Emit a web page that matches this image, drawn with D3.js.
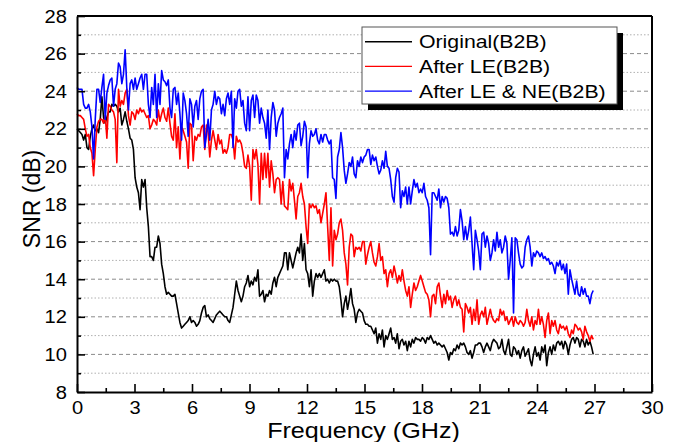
<!DOCTYPE html>
<html><head><meta charset="utf-8">
<script src="https://cdn.jsdelivr.net/npm/d3@7"></script>
<style>body{margin:0;background:#fff;} svg{display:block;}</style>
</head><body><svg id="c" width="678" height="442"></svg>
<script>
// ---------- data ----------
const freqStart = 0;       // GHz of first sample
const freqStep = 0.0866;   // GHz between samples
const seriesNames = ["Original(B2B)", "After LE(B2B)", "After LE & NE(B2B)"];

const snrOriginal = [
22.0,21.9,21.8,21.7,21.4,21.7,21.0,20.9,21.6,22.0,
22.2,21.9,22.0,21.8,22.5,23.7,22.6,22.3,22.6,22.9,
22.9,23.3,23.2,23.3,23.2,22.9,23.1,22.2,22.5,22.9,
22.4,22.0,21.5,21.4,20.9,19.4,18.9,18.6,17.7,19.3,
18.9,19.3,17.8,16.8,15.2,15.2,15.0,15.7,15.7,16.3,
15.9,14.8,14.3,13.6,13.2,13.3,13.2,13.1,13.1,13.2,
12.7,12.2,11.7,11.4,11.5,11.6,11.7,11.8,12.0,11.7,
11.8,11.7,11.5,11.6,11.8,12.2,12.5,12.6,12.0,12.1,
11.9,11.8,11.7,11.9,12.1,12.2,12.3,12.2,12.1,12.0,
12.0,
11.8,11.7,12.1,12.5,13.2,13.9,13.4,13.1,12.8,13.1,
13.6,13.8,14.2,13.6,13.9,13.7,14.1,13.9,14.5,13.1,
13.2,13.4,12.8,13.2,13.1,13.4,13.2,13.8,14.1,13.6,
14.1,14.3,14.5,14.7,15.4,15.4,14.5,15.4,15.0,14.6,
15.0,15.4,15.7,15.4,16.4,15.0,15.9,14.5,14.3,13.6,
14.5,13.1,13.9,14.3,14.1,14.3,14.1,14.3,14.5,13.9,
14.0,13.8,14.0,13.9,14.0,13.9,13.9,13.6,12.9,12.0,
12.7,13.1,12.4,12.9,13.5,12.7,12.4,11.7,12.2,12.4,
12.3,12.2,11.8,11.6,11.6,11.5,11.5,11.3,11.1,
11.4,10.6,11.1,10.8,11.3,10.4,11.0,10.8,11.1,11.4,
10.8,10.9,10.6,11.1,10.3,10.7,10.8,10.5,10.7,10.2,
10.7,10.4,10.8,10.6,10.9,10.8,10.8,10.7,10.9,10.8,
10.6,10.9,10.8,11.0,10.8,10.6,10.7,10.5,10.6,10.5,
10.4,10.5,10.3,10.1,9.7,10.1,10.0,10.3,10.2,10.5,
10.3,10.6,10.5,10.6,10.4,10.1,10.0,10.2,9.8,10.1,
10.5,10.5,10.6,10.6,10.4,10.1,10.4,10.6,10.4,10.2,
10.6,10.8,10.7,10.6,10.3,10.4,10.8,10.2,10.0,10.4,
10.8,10.0,9.9,10.4,10.3,10.0,10.2,9.8,10.2,
10.4,9.9,10.1,10.3,9.7,9.4,10.0,10.4,9.9,10.1,
9.7,10.4,10.1,10.5,9.4,10.1,10.4,10.0,10.5,10.2,
10.6,10.7,10.5,10.7,10.3,10.7,10.5,10.0,10.5,10.8,
10.9,10.6,10.9,10.8,10.4,10.8,10.7,10.4,10.8,10.5,
10.7,10.4,10.0
];

const snrLE = [
22.8,22.7,22.7,22.6,22.5,22.0,21.6,21.7,21.0,20.7,
19.5,20.9,22.1,22.4,22.5,22.5,22.3,22.7,21.5,23.3,
23.2,23.0,22.9,22.5,20.2,24.1,23.2,23.5,23.3,23.9,
24.1,22.7,22.2,22.9,22.8,22.5,23.0,22.8,23.1,22.9,
23.0,22.8,22.6,22.7,22.0,22.2,22.5,22.4,22.2,23.0,
22.4,22.8,23.1,22.6,22.4,23.1,22.3,21.6,21.4,22.8,
21.0,22.1,20.4,22.1,21.9,21.6,21.3,19.9,22.3,22.2,
20.3,21.6,21.4,21.7,21.6,22.1,22.2,20.9,22.2,21.8,
20.5,21.4,21.9,21.4,20.9,21.7,21.2,21.4,20.7,20.9,
20.7,
21.0,21.7,21.7,21.4,20.4,21.6,21.3,21.4,21.2,20.7,
20.0,19.9,20.6,20.0,18.2,20.9,20.4,20.9,20.1,18.0,
20.7,19.3,20.7,19.4,20.7,18.9,20.3,19.6,18.6,19.3,
19.4,19.3,18.0,19.2,17.9,17.8,17.7,19.3,18.7,19.1,
18.2,17.2,18.4,18.6,19.1,18.4,18.0,16.8,15.9,18.0,
17.8,18.0,17.8,17.9,17.5,17.7,17.0,17.5,18.0,18.6,
16.8,15.0,17.8,14.7,16.6,16.1,16.4,17.0,17.2,16.6,
15.4,14.8,13.7,15.7,16.4,16.3,15.2,15.7,15.6,15.7,
15.5,16.0,16.0,14.8,15.3,15.7,16.0,15.4,14.9,
14.7,15.2,15.9,15.0,15.2,14.3,14.5,13.6,14.3,14.5,
14.1,14.7,14.3,13.8,14.2,13.9,14.5,13.9,13.4,13.1,
13.6,12.5,13.2,13.8,13.4,13.6,13.9,14.2,13.9,13.6,
13.3,13.2,12.9,12.0,13.1,13.2,12.7,13.6,13.8,13.1,
12.5,13.2,12.7,13.4,12.9,13.1,12.5,12.9,13.1,12.6,
12.9,12.5,12.4,11.2,12.7,12.5,12.2,12.5,11.6,12.4,
11.8,12.9,11.6,12.1,12.3,12.0,12.5,11.6,12.0,12.4,
12.0,11.8,11.7,11.9,11.8,12.4,12.1,12.3,11.8,12.0,
11.6,11.8,12.0,11.5,12.0,11.7,11.6,11.8,11.7,
11.5,11.7,12.4,11.8,11.5,12.0,11.3,11.8,11.6,12.4,
11.6,12.0,11.6,10.9,11.8,12.2,11.1,11.8,11.5,11.8,
11.3,11.1,11.6,11.4,11.5,11.3,11.5,11.1,10.9,11.3,
11.1,11.6,11.5,11.3,11.4,11.2,10.8,11.5,11.2,11.0,
10.7,11.0,10.8
];

const snrLENE = [
24.2,24.1,24.1,24.1,23.3,23.1,23.1,23.3,22.9,22.1,
20.4,22.5,24.1,24.1,23.4,24.2,24.9,22.5,23.9,24.3,
24.6,24.7,23.2,24.1,24.4,25.5,25.3,24.4,24.9,26.2,
24.2,23.0,24.4,24.6,24.1,24.7,24.1,24.4,24.7,24.9,
24.1,24.9,24.9,23.3,22.6,24.2,23.3,24.9,22.6,24.4,
23.3,25.1,24.6,24.5,24.3,24.6,23.1,22.6,24.1,24.2,
23.3,23.9,22.8,21.4,23.9,23.5,22.8,21.6,23.6,23.3,
22.1,23.2,23.5,22.5,23.6,24.0,24.1,21.0,21.7,22.5,
21.4,23.0,23.3,24.0,23.3,23.7,23.6,22.8,23.3,22.7,
23.6,
23.9,23.3,24.0,21.0,23.6,23.1,24.0,24.1,23.2,23.5,
22.3,21.9,23.7,21.9,23.5,23.8,22.6,23.8,23.5,22.3,
23.1,22.6,22.3,21.5,23.0,20.9,22.6,23.4,23.0,21.6,
22.3,22.6,22.8,23.1,19.4,20.9,20.4,21.2,21.7,21.0,
21.9,21.4,22.2,22.3,21.1,21.6,22.4,22.1,19.4,21.2,
21.9,21.6,21.7,22.0,21.4,21.2,21.7,21.3,21.7,21.7,
21.4,21.2,21.4,19.4,19.3,18.3,20.5,20.9,21.8,21.0,
19.8,19.1,19.6,20.2,20.0,20.5,19.6,19.4,20.3,20.0,
20.5,20.2,20.5,20.6,20.9,20.9,20.1,20.6,20.3,
20.5,20.0,19.6,19.8,20.3,19.9,20.8,20.0,19.9,19.3,
18.4,18.1,19.4,19.9,19.7,17.8,18.7,18.4,18.9,18.0,
18.9,18.0,18.7,19.3,18.9,19.1,18.6,18.8,18.6,19.1,
18.4,18.2,17.8,15.3,18.6,18.6,18.4,18.2,18.8,17.8,
18.4,18.1,18.4,18.3,17.8,16.4,16.5,16.3,16.8,16.3,
16.6,17.7,17.1,16.1,16.8,16.1,16.6,17.3,15.9,14.5,
16.6,16.1,15.5,14.5,16.4,16.5,15.7,16.3,15.9,15.0,
15.4,16.1,15.5,16.5,15.7,16.1,15.4,15.7,16.3,15.9,
14.0,15.0,16.2,12.2,16.2,16.1,15.4,14.8,14.6,
14.7,15.7,16.1,16.3,15.7,14.7,15.4,15.2,15.5,15.4,
15.2,15.4,15.1,15.2,15.0,15.1,14.8,14.9,14.7,14.3,
14.9,14.7,15.0,14.5,14.8,14.3,14.8,13.2,14.5,14.0,
13.6,13.2,13.9,13.2,13.1,13.6,13.2,13.5,13.1,13.1,
12.7,13.2,13.4
];

const xTicks = [0, 3, 6, 9, 12, 15, 18, 21, 24, 27, 30];
const xMinorTicks = [1.5, 4.5, 7.5, 10.5, 13.5, 16.5, 19.5, 22.5, 25.5, 28.5];
const yTicks = [8, 10, 12, 14, 16, 18, 20, 22, 24, 26, 28];
const yMinorTicks = [9, 11, 13, 15, 17, 19, 21, 23, 25, 27];
const xTitle = "Frequency (GHz)";
const yTitle = "SNR (dB)";

// ---------- drawing ----------
const FONT = "Arial, 'Liberation Sans', sans-serif";
const colors = ["#000000", "#ff0000", "#0000ff"];
const svg = d3.select("#c");
const m = {l: 77, r: 652, t: 16, b: 392};
const x = d3.scaleLinear().domain([0, 30]).range([m.l, m.r]);
const y = d3.scaleLinear().domain([8, 28]).range([m.b, m.t]);

svg.append("rect").attr("width", 678).attr("height", 442).attr("fill", "#fff");

// grid
svg.append("g").selectAll("line").data(yMinorTicks).join("line")
  .attr("x1", m.l).attr("x2", m.r).attr("y1", d => y(d)).attr("y2", d => y(d))
  .attr("stroke", "#b0b0b0").attr("stroke-width", 1).attr("stroke-dasharray", "1.5,2");
svg.append("g").selectAll("line").data(yTicks.filter(d => d > 8 && d < 28)).join("line")
  .attr("x1", m.l).attr("x2", m.r).attr("y1", d => y(d)).attr("y2", d => y(d))
  .attr("stroke", "#8a8a8a").attr("stroke-width", 1).attr("stroke-dasharray", "4,3");

// series
const line = d3.line().x((d, i) => x(freqStart + i * freqStep)).y(d => y(d));
[snrOriginal, snrLE, snrLENE].forEach((s, k) => {
  svg.append("path").datum(s).attr("d", line).attr("fill", "none")
    .attr("stroke", colors[k]).attr("stroke-width", 1.6).attr("stroke-linejoin", "round");
});

// frame top/right
svg.append("line").attr("x1", m.l).attr("x2", m.r).attr("y1", m.t).attr("y2", m.t).attr("stroke", "#000").attr("stroke-width", 2);
svg.append("line").attr("x1", m.r).attr("x2", m.r).attr("y1", m.t).attr("y2", m.b).attr("stroke", "#000").attr("stroke-width", 2);

// axes
const sx = 1.06;
const gx = svg.append("g").attr("transform", `translate(0,${m.b})`)
  .call(d3.axisBottom(x).tickValues(xTicks).tickSize(-8).tickSizeOuter(0).tickPadding(9));
gx.select(".domain").attr("stroke-width", 2);
gx.selectAll(".tick line").attr("stroke-width", 1.6);
gx.selectAll("text").attr("font-family", FONT).attr("font-size", 19).attr("fill", "#000")
  .attr("transform", `scale(${sx},1)`);
const gxm = svg.append("g").attr("transform", `translate(0,${m.b})`)
  .call(d3.axisBottom(x).tickValues(xMinorTicks).tickSize(-4).tickFormat(""));
gxm.select(".domain").remove();
gxm.selectAll(".tick line").attr("stroke-width", 1.6);

const gy = svg.append("g").attr("transform", `translate(${m.l},0)`)
  .call(d3.axisLeft(y).tickValues(yTicks).tickSize(-8).tickSizeOuter(0).tickPadding(10));
gy.select(".domain").attr("stroke-width", 2);
gy.selectAll(".tick line").attr("stroke-width", 1.6);
gy.selectAll("text").attr("font-family", FONT).attr("font-size", 19).attr("fill", "#000")
  .attr("x", -10 / sx).attr("transform", `scale(${sx},1)`);
const gym = svg.append("g").attr("transform", `translate(${m.l},0)`)
  .call(d3.axisLeft(y).tickValues(yMinorTicks).tickSize(-4).tickFormat(""));
gym.select(".domain").remove();
gym.selectAll(".tick line").attr("stroke-width", 1.6);

// titles
svg.append("text").attr("transform", `translate(363.5,437.5) scale(1.17,1)`)
  .attr("text-anchor", "middle").attr("font-family", FONT).attr("font-size", 21.5).text(xTitle);
svg.append("text").attr("transform", `translate(40,199) rotate(-90)`)
  .attr("text-anchor", "middle").attr("font-family", FONT).attr("font-size", 23).text(yTitle);

// legend
const lg = svg.append("g");
lg.append("rect").attr("x", 368).attr("y", 33).attr("width", 255).attr("height", 77).attr("fill", "#000");
lg.append("rect").attr("x", 362).attr("y", 27).attr("width", 255).attr("height", 77)
  .attr("fill", "#fff").attr("stroke", "#555").attr("stroke-width", 1);
seriesNames.forEach((name, k) => {
  const cy = 41.7 + k * 24.7;
  lg.append("line").attr("x1", 365).attr("x2", 412).attr("y1", cy).attr("y2", cy)
    .attr("stroke", colors[k]).attr("stroke-width", 1.4);
  lg.append("text").attr("transform", `translate(419,${cy + 6.6}) scale(1.15,1)`)
    .attr("font-family", FONT).attr("font-size", 18.5).attr("fill", "#000").text(name);
});
</script></body></html>
